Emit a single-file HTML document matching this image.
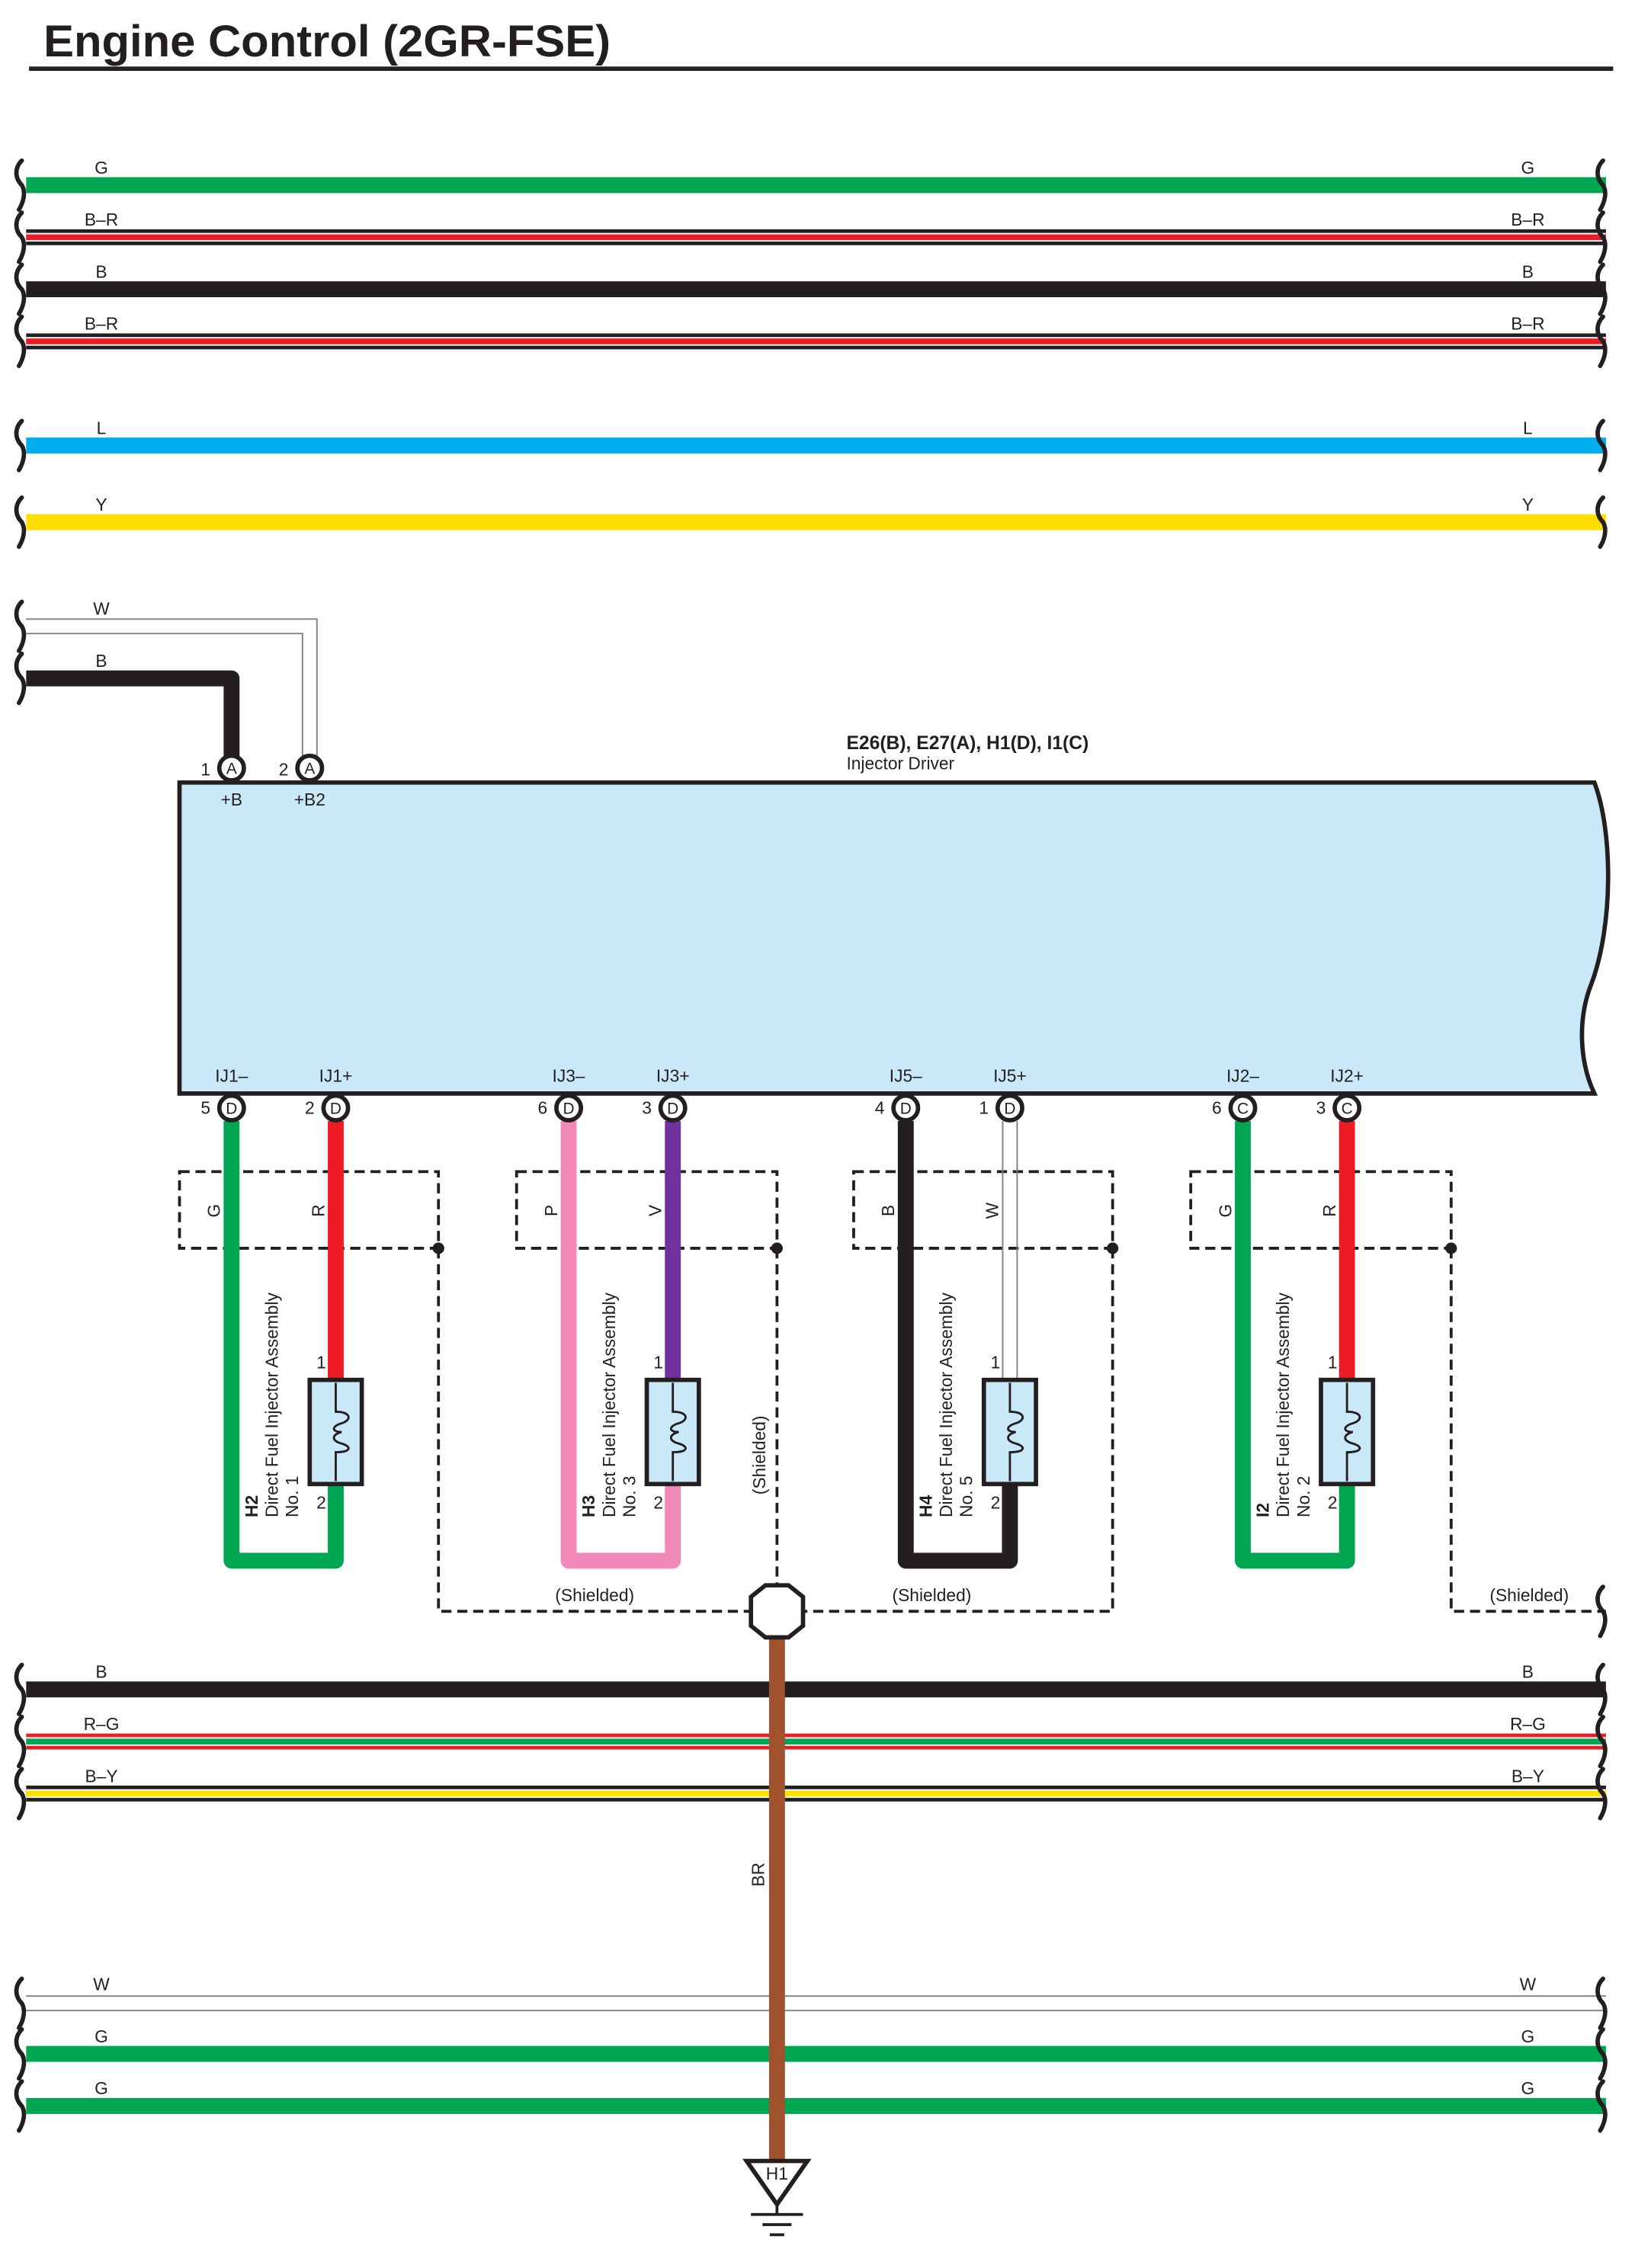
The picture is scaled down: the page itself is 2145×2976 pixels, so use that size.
<!DOCTYPE html>
<html><head><meta charset="utf-8"><style>html,body{margin:0;padding:0;background:#fff}svg{display:block}text{font-family:"Liberation Sans",sans-serif;fill:#231f20}</style></head>
<body>
<svg width="2145" height="2976" viewBox="0 0 1130 1568" xmlns="http://www.w3.org/2000/svg">
<defs>
<path id="br" d="M17,-17 C12,-12 12,-5 17,0 C20,5 18,12 15,17" fill="none" stroke="#231f20" stroke-width="3" stroke-linecap="round"/>
</defs>
<text x="30" y="39" font-size="31" font-weight="bold" textLength="392" lengthAdjust="spacingAndGlyphs">Engine Control (2GR-FSE)</text>
<rect x="20" y="46" width="1095" height="3" fill="#231f20"/>

<!-- top wires -->
<g font-size="12" text-anchor="middle">
<line x1="18" y1="128" x2="1110" y2="128" stroke="#00a651" stroke-width="11"/>
<text x="70" y="120">G</text><text x="1056" y="120">G</text>
<line x1="18" y1="164" x2="1110" y2="164" stroke="#231f20" stroke-width="11"/>
<line x1="18" y1="164" x2="1110" y2="164" stroke="#fff" stroke-width="6"/>
<line x1="18" y1="164" x2="1110" y2="164" stroke="#ed1c24" stroke-width="4"/>
<text x="70" y="156">B–R</text><text x="1056" y="156">B–R</text>
<line x1="18" y1="200" x2="1110" y2="200" stroke="#231f20" stroke-width="11"/>
<text x="70" y="192">B</text><text x="1056" y="192">B</text>
<line x1="18" y1="236" x2="1110" y2="236" stroke="#231f20" stroke-width="11"/>
<line x1="18" y1="236" x2="1110" y2="236" stroke="#fff" stroke-width="6"/>
<line x1="18" y1="236" x2="1110" y2="236" stroke="#ed1c24" stroke-width="4"/>
<text x="70" y="228">B–R</text><text x="1056" y="228">B–R</text>
<line x1="18" y1="308" x2="1110" y2="308" stroke="#00aeef" stroke-width="11"/>
<text x="70" y="300">L</text><text x="1056" y="300">L</text>
<line x1="18" y1="361" x2="1110" y2="361" stroke="#ffde00" stroke-width="11"/>
<text x="70" y="353">Y</text><text x="1056" y="353">Y</text>
</g>
<g>
<use href="#br" x="-2" y="128"/><use href="#br" x="-2" y="164"/><use href="#br" x="-2" y="200"/><use href="#br" x="-2" y="236"/><use href="#br" x="-2" y="308"/><use href="#br" x="-2" y="361"/>
<use href="#br" x="1091" y="128"/><use href="#br" x="1091" y="164"/><use href="#br" x="1091" y="200"/><use href="#br" x="1091" y="236"/><use href="#br" x="1091" y="308"/><use href="#br" x="1091" y="361"/>
<use href="#br" x="-2" y="433"/><use href="#br" x="-2" y="469"/>
</g>

<!-- W and B to module -->
<polyline points="18,428 219,428 219,525" fill="none" stroke="#808080" stroke-width="1"/>
<polyline points="18,438 209,438 209,525" fill="none" stroke="#808080" stroke-width="1"/>
<text x="70" y="425" font-size="12" text-anchor="middle">W</text>
<polyline points="18,469 160,469 160,525" fill="none" stroke="#231f20" stroke-width="11" stroke-linejoin="round"/>
<text x="70" y="461" font-size="12" text-anchor="middle">B</text>

<!-- module -->
<path d="M124,541 L1102,541 C1115,575 1115,640 1100,680 C1090,705 1092,735 1102,756 L124,756 Z" fill="#c9e8f8" stroke="#231f20" stroke-width="3"/>
<text x="585" y="518" font-size="13" font-weight="bold">E26(B), E27(A), H1(D), I1(C)</text>
<text x="585" y="532" font-size="12">Injector Driver</text>
<g font-size="12" text-anchor="middle">
<circle cx="160" cy="531" r="8.5" fill="#fff" stroke="#231f20" stroke-width="3"/><text x="160" y="535" font-size="11">A</text>
<circle cx="214" cy="531" r="8.5" fill="#fff" stroke="#231f20" stroke-width="3"/><text x="214" y="535" font-size="11">A</text>
<text x="142" y="536">1</text><text x="196" y="536">2</text>
<text x="160" y="557">+B</text><text x="214" y="557">+B2</text>
</g>

<!-- shield dashed -->
<g fill="none" stroke="#231f20" stroke-width="2" stroke-dasharray="7,4">
<rect x="124" y="810" width="179" height="53"/>
<rect x="357" y="810" width="180" height="53"/>
<rect x="590" y="810" width="179" height="53"/>
<rect x="823" y="810" width="180" height="53"/>
<polyline points="303,863 303,1114 519,1114"/>
<polyline points="537,863 537,1096"/>
<polyline points="769,863 769,1114 555,1114"/>
<polyline points="1003,863 1003,1114 1110,1114"/>
</g>
<use href="#br" x="1091" y="1114"/>
<g fill="#231f20"><circle cx="303" cy="863" r="4"/><circle cx="537" cy="863" r="4"/><circle cx="769" cy="863" r="4"/><circle cx="1003" cy="863" r="4"/></g>
<g font-size="12" text-anchor="middle">
<text x="411" y="1107">(Shielded)</text><text x="644" y="1107">(Shielded)</text><text x="1057" y="1107">(Shielded)</text>
<text transform="translate(529,1006) rotate(-90)">(Shielded)</text>
</g>

<!-- injector wires -->
<g fill="none" stroke-width="11" stroke-linejoin="round">
<polyline points="160,775 160,1079 232,1079 232,1026" stroke="#00a651"/>
<line x1="232" y1="775" x2="232" y2="954" stroke="#ed1c24"/>
<polyline points="393,775 393,1079 465,1079 465,1026" stroke="#f088b8"/>
<line x1="465" y1="775" x2="465" y2="954" stroke="#7030a0"/>
<polyline points="626,775 626,1079 698,1079 698,1026" stroke="#231f20"/>
<polyline points="859,775 859,1079 931,1079 931,1026" stroke="#00a651"/>
<line x1="931" y1="775" x2="931" y2="954" stroke="#ed1c24"/>
</g>
<line x1="693" y1="775" x2="693" y2="954" stroke="#808080" stroke-width="1"/>
<line x1="703" y1="775" x2="703" y2="954" stroke="#808080" stroke-width="1"/>

<!-- connectors bottom -->
<g font-size="12" text-anchor="middle">
<text x="160" y="748">IJ1–</text><text x="232" y="748">IJ1+</text>
<text x="393" y="748">IJ3–</text><text x="465" y="748">IJ3+</text>
<text x="626" y="748">IJ5–</text><text x="698" y="748">IJ5+</text>
<text x="859" y="748">IJ2–</text><text x="931" y="748">IJ2+</text>
<text x="142" y="770">5</text><text x="214" y="770">2</text>
<text x="375" y="770">6</text><text x="447" y="770">3</text>
<text x="608" y="770">4</text><text x="680" y="770">1</text>
<text x="841" y="770">6</text><text x="913" y="770">3</text>
</g>
<g fill="#fff" stroke="#231f20" stroke-width="3">
<circle cx="160" cy="766" r="8.5"/><circle cx="232" cy="766" r="8.5"/>
<circle cx="393" cy="766" r="8.5"/><circle cx="465" cy="766" r="8.5"/>
<circle cx="626" cy="766" r="8.5"/><circle cx="698" cy="766" r="8.5"/>
<circle cx="859" cy="766" r="8.5"/><circle cx="931" cy="766" r="8.5"/>
</g>
<g font-size="11" text-anchor="middle">
<text x="160" y="770">D</text><text x="232" y="770">D</text><text x="393" y="770">D</text><text x="465" y="770">D</text>
<text x="626" y="770">D</text><text x="698" y="770">D</text><text x="859" y="770">C</text><text x="931" y="770">C</text>
</g>

<!-- rotated wire color labels -->
<g font-size="12" text-anchor="middle">
<text transform="translate(152,837) rotate(-90)">G</text><text transform="translate(224,837) rotate(-90)">R</text>
<text transform="translate(385,837) rotate(-90)">P</text><text transform="translate(457,837) rotate(-90)">V</text>
<text transform="translate(618,837) rotate(-90)">B</text><text transform="translate(690,837) rotate(-90)">W</text>
<text transform="translate(851,837) rotate(-90)">G</text><text transform="translate(923,837) rotate(-90)">R</text>
</g>

<!-- coils -->
<g>
<g transform="translate(0,0)">
<rect x="214" y="954" width="36" height="72" fill="#c9e8f8" stroke="#231f20" stroke-width="3"/>
<path d="M232,956 V976 C243,976 243,982 236,984 C229,986 229,990 236,990 C229,992 229,996 236,998 C243,1000 243,1004 232,1004 V1024" fill="none" stroke="#231f20" stroke-width="1.5"/>
</g>
<g transform="translate(233,0)">
<rect x="214" y="954" width="36" height="72" fill="#c9e8f8" stroke="#231f20" stroke-width="3"/>
<path d="M232,956 V976 C243,976 243,982 236,984 C229,986 229,990 236,990 C229,992 229,996 236,998 C243,1000 243,1004 232,1004 V1024" fill="none" stroke="#231f20" stroke-width="1.5"/>
</g>
<g transform="translate(466,0)">
<rect x="214" y="954" width="36" height="72" fill="#c9e8f8" stroke="#231f20" stroke-width="3"/>
<path d="M232,956 V976 C243,976 243,982 236,984 C229,986 229,990 236,990 C229,992 229,996 236,998 C243,1000 243,1004 232,1004 V1024" fill="none" stroke="#231f20" stroke-width="1.5"/>
</g>
<g transform="translate(699,0)">
<rect x="214" y="954" width="36" height="72" fill="#c9e8f8" stroke="#231f20" stroke-width="3"/>
<path d="M232,956 V976 C243,976 243,982 236,984 C229,986 229,990 236,990 C229,992 229,996 236,998 C243,1000 243,1004 232,1004 V1024" fill="none" stroke="#231f20" stroke-width="1.5"/>
</g>
</g>
<g font-size="12" text-anchor="middle">
<text x="222" y="946">1</text><text x="222" y="1043">2</text>
<text x="455" y="946">1</text><text x="455" y="1043">2</text>
<text x="688" y="946">1</text><text x="688" y="1043">2</text>
<text x="921" y="946">1</text><text x="921" y="1043">2</text>
</g>
<g font-size="12">
<g transform="translate(178,1049) rotate(-90)"><text font-weight="bold">H2</text><text y="14">Direct Fuel Injector Assembly</text><text y="28">No.  1</text></g>
<g transform="translate(411,1049) rotate(-90)"><text font-weight="bold">H3</text><text y="14">Direct Fuel Injector Assembly</text><text y="28">No.  3</text></g>
<g transform="translate(644,1049) rotate(-90)"><text font-weight="bold">H4</text><text y="14">Direct Fuel Injector Assembly</text><text y="28">No.  5</text></g>
<g transform="translate(877,1049) rotate(-90)"><text font-weight="bold">I2</text><text y="14">Direct Fuel Injector Assembly</text><text y="28">No.  2</text></g>
</g>

<!-- bottom wires -->
<g font-size="12" text-anchor="middle">
<line x1="18" y1="1168" x2="1110" y2="1168" stroke="#231f20" stroke-width="11"/>
<text x="70" y="1160">B</text><text x="1056" y="1160">B</text>
<line x1="18" y1="1204" x2="1110" y2="1204" stroke="#ed1c24" stroke-width="11"/>
<line x1="18" y1="1204" x2="1110" y2="1204" stroke="#fff" stroke-width="6"/>
<line x1="18" y1="1204" x2="1110" y2="1204" stroke="#00a651" stroke-width="4"/>
<text x="70" y="1196">R–G</text><text x="1056" y="1196">R–G</text>
<line x1="18" y1="1240" x2="1110" y2="1240" stroke="#231f20" stroke-width="11"/>
<line x1="18" y1="1240" x2="1110" y2="1240" stroke="#fff" stroke-width="6"/>
<line x1="18" y1="1240" x2="1110" y2="1240" stroke="#ffde00" stroke-width="4"/>
<text x="70" y="1232">B–Y</text><text x="1056" y="1232">B–Y</text>
<line x1="18" y1="1380" x2="1110" y2="1380" stroke="#808080" stroke-width="1"/>
<line x1="18" y1="1390" x2="1110" y2="1390" stroke="#808080" stroke-width="1"/>
<text x="70" y="1376">W</text><text x="1056" y="1376">W</text>
<line x1="18" y1="1420" x2="1110" y2="1420" stroke="#00a651" stroke-width="11"/>
<text x="70" y="1412">G</text><text x="1056" y="1412">G</text>
<line x1="18" y1="1456" x2="1110" y2="1456" stroke="#00a651" stroke-width="11"/>
<text x="70" y="1448">G</text><text x="1056" y="1448">G</text>
</g>
<g>
<use href="#br" x="-2" y="1168"/><use href="#br" x="-2" y="1204"/><use href="#br" x="-2" y="1240"/><use href="#br" x="-2" y="1385"/><use href="#br" x="-2" y="1420"/><use href="#br" x="-2" y="1456"/>
<use href="#br" x="1091" y="1168"/><use href="#br" x="1091" y="1204"/><use href="#br" x="1091" y="1240"/><use href="#br" x="1091" y="1385"/><use href="#br" x="1091" y="1420"/><use href="#br" x="1091" y="1456"/>
</g>

<!-- BR ground wire -->
<line x1="537" y1="1130" x2="537" y2="1494" stroke="#a0522d" stroke-width="11"/>
<text transform="translate(528,1296) rotate(-90)" font-size="12" text-anchor="middle">BR</text>
<polygon points="529,1096 545,1096 555,1104 555,1124 545,1132 529,1132 519,1124 519,1104" fill="#fff" stroke="#231f20" stroke-width="3"/>
<polygon points="516,1494 558,1494 537,1524" fill="#fff" stroke="#231f20" stroke-width="3" stroke-linejoin="miter"/>
<text x="537" y="1507" font-size="12" text-anchor="middle">H1</text>
<line x1="537" y1="1524" x2="537" y2="1531" stroke="#231f20" stroke-width="2"/>
<line x1="519" y1="1531" x2="555" y2="1531" stroke="#231f20" stroke-width="2"/>
<line x1="527" y1="1538" x2="547" y2="1538" stroke="#231f20" stroke-width="2"/>
<line x1="532" y1="1545" x2="542" y2="1545" stroke="#231f20" stroke-width="2"/>
</svg>
</body></html>
